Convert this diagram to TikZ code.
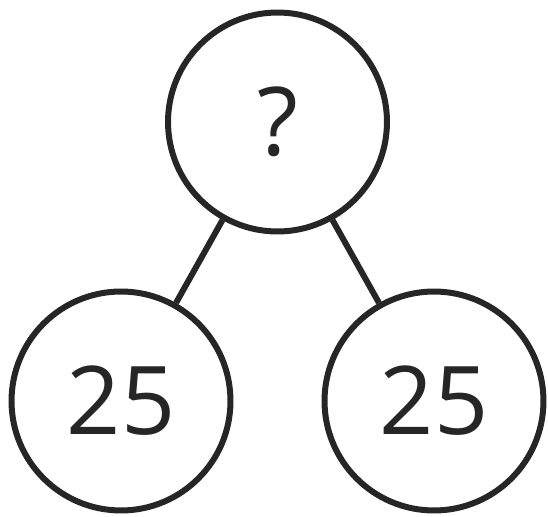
\documentclass[tikz,border=0pt]{standalone}
\usepackage{fontspec}
\setmainfont{Open Sans}
\usetikzlibrary{positioning}
\definecolor{ink}{RGB}{38,38,38}

\begin{document}
\begin{tikzpicture}[x=0.02cm, y=-0.02cm, line width=0.12cm, draw=ink, text=ink]
\tikzset{bubble/.style={draw=ink, circle, minimum size=4.38cm, inner sep=0pt, font=\fontsize{54}{54}\selectfont}}
\useasboundingbox (0,0) rectangle (548,517);
\node[bubble] (top) at (277.5,122) {?};
\node[bubble] (left) at (121,401) {25};
\node[bubble] (right) at (434,401) {25};
\draw[ink] (top)--(left);
\draw[ink] (top)--(right);
\end{tikzpicture}
\end{document}
